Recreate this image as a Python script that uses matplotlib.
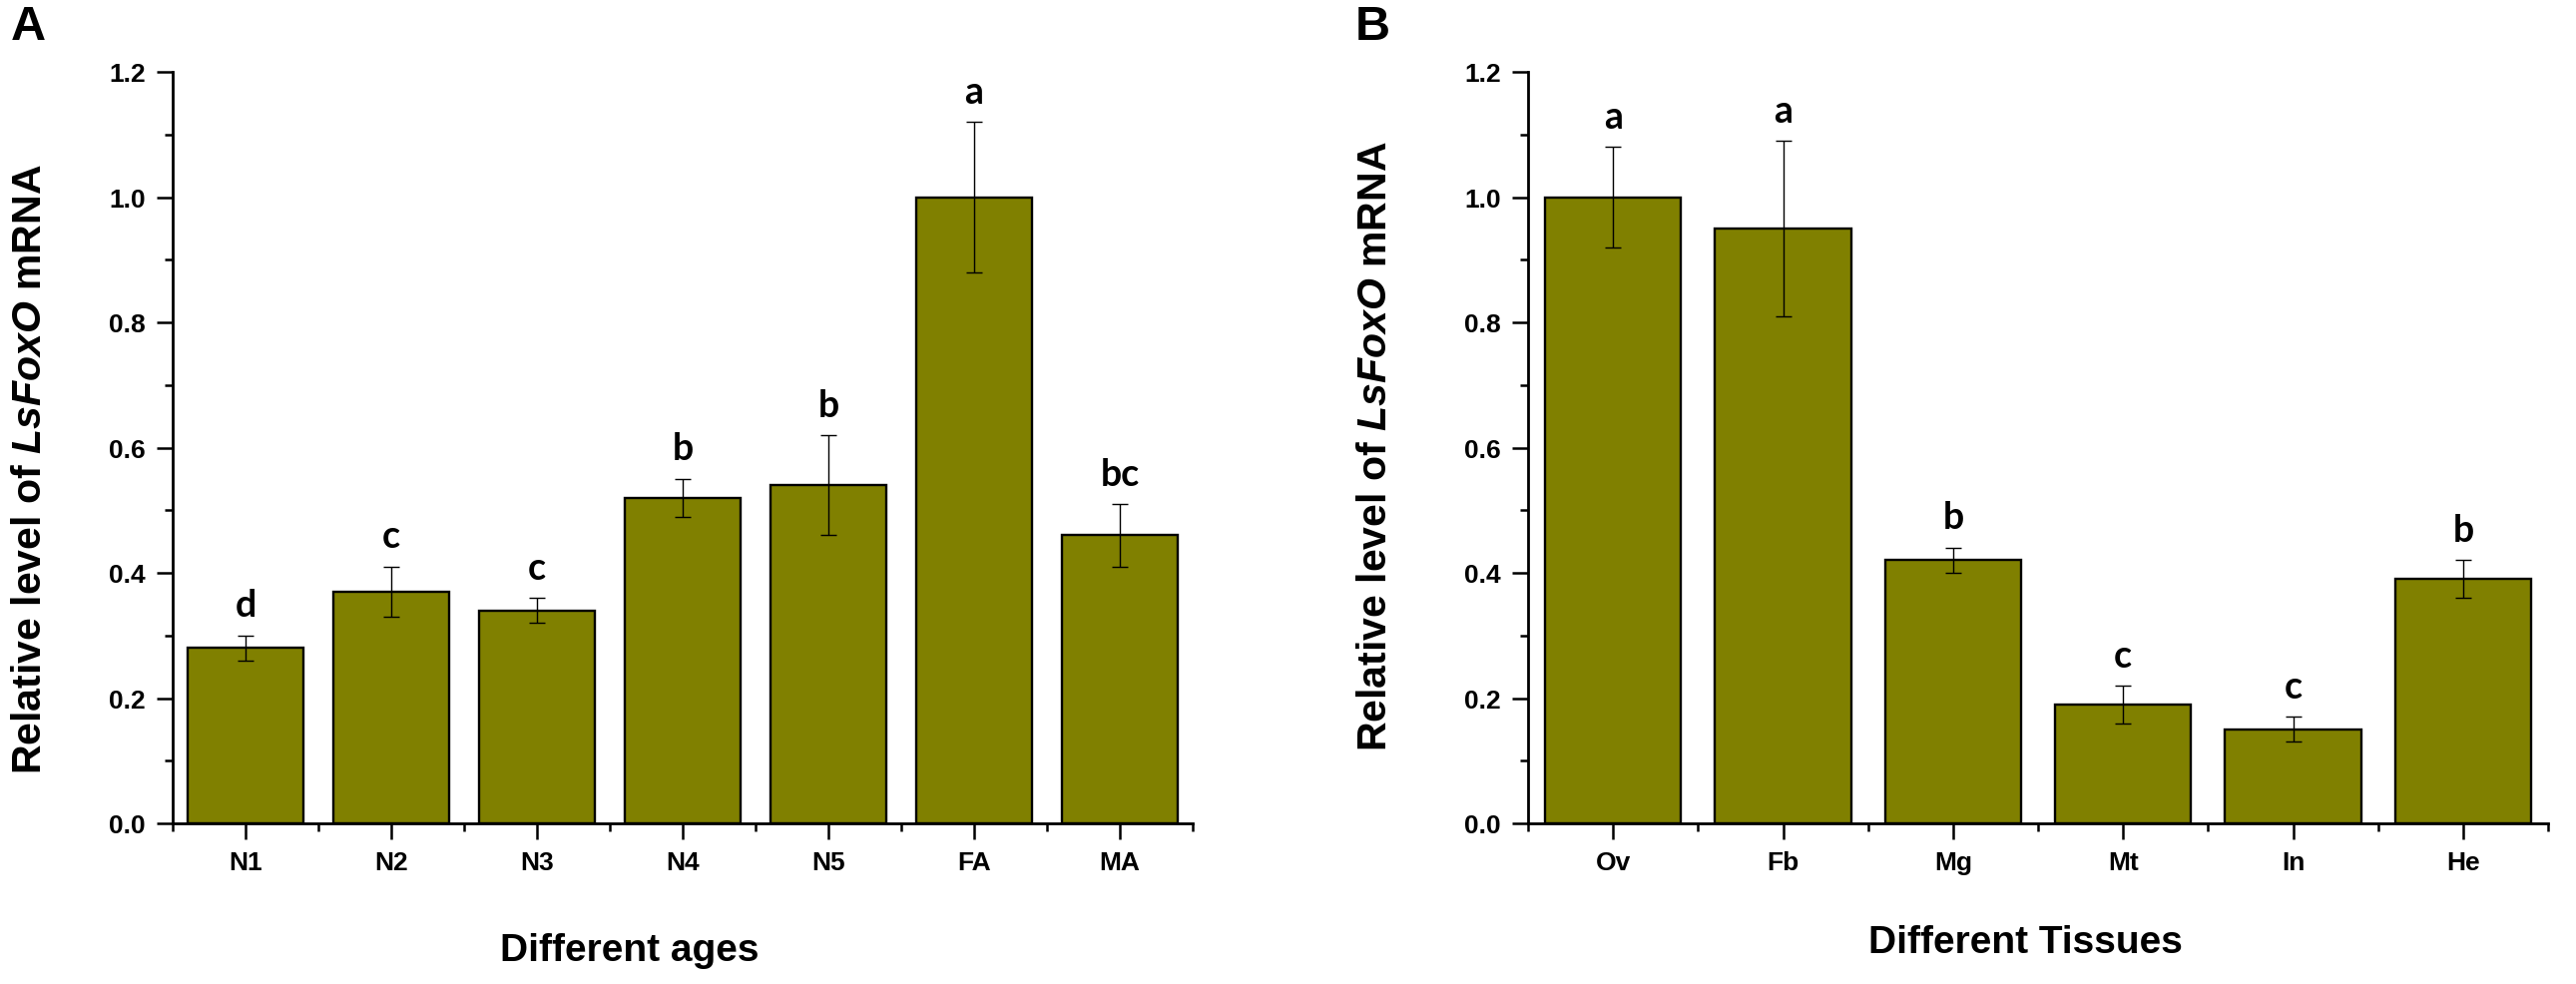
import matplotlib
matplotlib.use('Agg')
import matplotlib.pyplot as plt
import numpy as np
from matplotlib.ticker import MultipleLocator, FixedLocator

# qPCR data
ages = ['N1', 'N2', 'N3', 'N4', 'N5', 'FA', 'MA']
age_vals = [0.28, 0.37, 0.34, 0.52, 0.54, 1.00, 0.46]
age_err = [0.02, 0.04, 0.02, 0.03, 0.08, 0.12, 0.05]
age_sig = ['d', 'c', 'c', 'b', 'b', 'a', 'bc']

tissues = ['Ov', 'Fb', 'Mg', 'Mt', 'In', 'He']
tis_vals = [1.00, 0.95, 0.42, 0.19, 0.15, 0.39]
tis_err = [0.08, 0.14, 0.02, 0.03, 0.02, 0.03]
tis_sig = ['a', 'a', 'b', 'c', 'c', 'b']

yticks = [0.0, 0.2, 0.4, 0.6, 0.8, 1.0, 1.2]

plt.rcParams['font.family'] = ['Liberation Sans', 'DejaVu Sans']
plt.rcParams['font.weight'] = 'bold'
plt.rcParams['mathtext.fontset'] = 'custom'
plt.rcParams['mathtext.it'] = 'Liberation Sans:italic:bold'
plt.rcParams['mathtext.rm'] = 'Liberation Sans:bold'

W, H = 2581, 987
fig = plt.figure(figsize=(W / 100, H / 100), dpi=100)
fig.patch.set_facecolor('white')

ylabel = r'Relative level of $\mathit{LsFoxO}$ mRNA'


def panel(left, cats, vals, errs, sig, xlabel, xlab_pos, ylab_pos, tag, tag_x):
    ax = fig.add_axes([left / W, 1 - 826 / H, 1022 / W, (826 - 73) / H])
    x = np.arange(len(cats))
    ax.bar(x, vals, width=0.8, color='#808000', edgecolor='black',
           linewidth=1.7, zorder=2)
    ax.errorbar(x, vals, yerr=errs, fmt='none', ecolor='black',
                elinewidth=1.0, capsize=5.5, capthick=1.0, zorder=3)
    for xi, v, e, s in zip(x, vals, errs, sig):
        ax.annotate(s, (xi, v + e), xytext=(0, 14), textcoords='offset points',
                    ha='center', va='baseline', fontsize=27,
                    fontweight='bold', family=['Lato', 'DejaVu Sans'])

    ax.set_xlim(-0.5, len(cats) - 0.5)
    ax.set_ylim(0, 1.2)
    ax.set_xticks(x)
    ax.set_xticklabels(cats)
    ax.xaxis.set_minor_locator(FixedLocator(np.arange(-0.5, len(cats), 1.0)))
    ax.set_yticks(yticks)
    ax.set_yticklabels(['%.1f' % t for t in yticks])
    ax.yaxis.set_minor_locator(MultipleLocator(0.1))

    for side in ['top', 'right']:
        ax.spines[side].set_visible(False)
    for side in ['left', 'bottom']:
        ax.spines[side].set_linewidth(2.0)
    ax.tick_params(which='major', direction='out', length=11.5, width=1.8,
                   labelsize=19, pad=8)
    ax.tick_params(which='minor', direction='out', length=5.8, width=1.8)
    ax.set_facecolor('none')

    fig.text(xlab_pos[0] / W, 1 - xlab_pos[1] / H, xlabel, ha='center',
             va='center', fontsize=28, fontweight='bold')
    fig.text(ylab_pos[0] / W, 1 - ylab_pos[1] / H, ylabel, rotation=90,
             ha='center', va='center', fontsize=29.5, fontweight='bold')
    fig.text(tag_x / W, 1 - 28 / H, tag, ha='center', va='center',
             fontsize=35, fontweight='bold')
    return ax


panel(173, ages, age_vals, age_err, age_sig, 'Different ages',
      (631, 953), (30, 470), 'A', 28)
panel(1531, tissues, tis_vals, tis_err, tis_sig, 'Different Tissues',
      (2029, 945), (1378, 447), 'B', 1375)

fig.savefig('out.png', dpi=100)
